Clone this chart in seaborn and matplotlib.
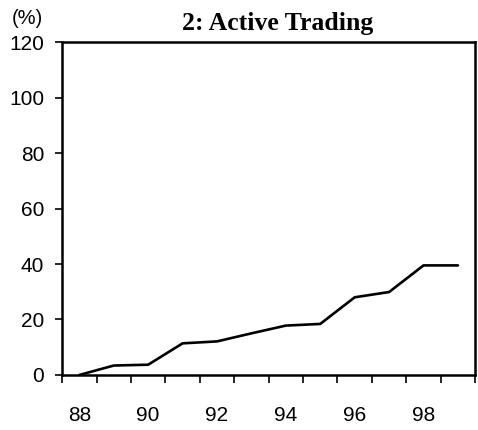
import pandas as pd
import matplotlib.pyplot as plt
import seaborn as sns

# data
years = [88, 89, 90, 91, 92, 93, 94, 95, 96, 97, 98, 99]
share = [0, 3.4, 3.7, 11.4, 12.1, 15.0, 17.8, 18.4, 28.0, 29.9, 39.5, 39.5]
year_labels = ["88", "90", "92", "94", "96", "98"]

df = pd.DataFrame({"year": years, "share": share})

sns.set_style("white")
plt.rcParams["font.family"] = ["Liberation Sans", "DejaVu Sans"]
plt.rcParams["text.color"] = "black"
plt.rcParams["xtick.color"] = "black"
plt.rcParams["ytick.color"] = "black"

fig = plt.figure(figsize=(4.78, 4.30), dpi=100)
ax = fig.add_axes([0.130, 0.128, 0.864, 0.774])

sns.lineplot(data=df, x="year", y="share", color="black", linewidth=1.9, ax=ax)

ax.set_xlim(87.5, 99.5)
ax.set_ylim(0, 120)

# labels every other year, ticks between categories
ax.set_xticks([88, 90, 92, 94, 96, 98])
ax.set_xticklabels(year_labels)
ax.set_xticks([x + 0.5 for x in range(87, 100)], minor=True)
ax.tick_params(axis="x", which="major", bottom=True, length=0, pad=22, labelsize=15)
ax.tick_params(axis="x", which="minor", bottom=True, length=6, width=1.2, direction="out")
ax.set_yticks(range(0, 121, 20))
ax.tick_params(axis="y", left=True, length=5, width=1.2, direction="out", pad=8, labelsize=15)

for s in ax.spines.values():
    s.set_visible(True)
    s.set_linewidth(1.8)
    s.set_color("black")

ax.set_xlabel("")
ax.set_ylabel("")

fig.text(0.025, 0.956, "(%)", fontsize=14.5, ha="left", va="center")
fig.text(0.5805, 0.930, "2: Active Trading", fontsize=18.5, fontweight="bold",
         family=["Liberation Serif", "DejaVu Serif"], ha="center", va="baseline")

fig.savefig("out.png", dpi=100)
